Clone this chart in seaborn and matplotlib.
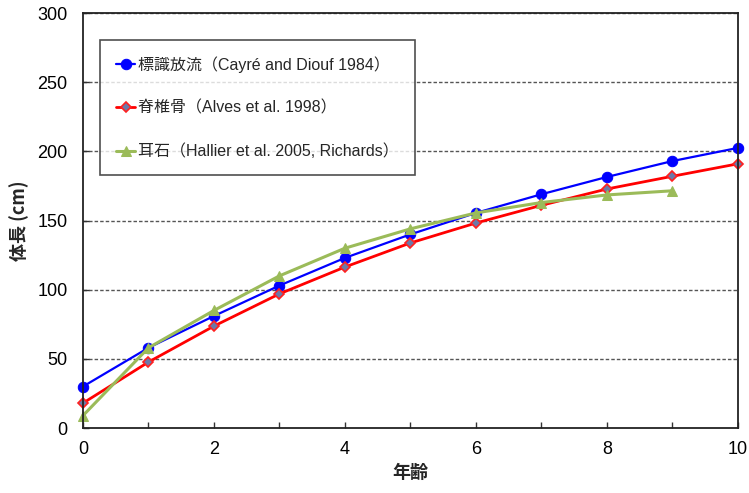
import numpy as np
import pandas as pd
import matplotlib
matplotlib.use("Agg")
import matplotlib.pyplot as plt
import seaborn as sns

# ages and lengths
age = [0, 1, 2, 3, 4, 5, 6, 7, 8, 9, 10]
scale_len = [30, 58, 81, 103, 123, 140, 155.5, 169, 181.5, 193, 202.5]
vertebra_len = [18, 47.7, 73.7, 97, 116.4, 133.8, 148.2, 161, 172.8, 182, 191]
age_oto = [0, 1, 2, 3, 4, 5, 6, 7, 8, 9]
otolith_len = [9, 58, 85, 110, 130, 144, 155.5, 163, 168.5, 171.5]

labels = ["標識放流（Cayré and Diouf 1984）",
          "脊椎骨（Alves et al. 1998）",
          "耳石（Hallier et al. 2005, Richards）"]

sns.set_theme(style="white")
plt.rcParams["font.family"] = ["Liberation Sans", "Noto Sans CJK JP", "DejaVu Sans"]

fig = plt.figure(figsize=(7.49, 4.93), dpi=100)
ax = fig.add_axes([0.1108, 0.1318, 0.8745, 0.8418])

for y in [50, 100, 150, 200, 250, 300]:
    ax.axhline(y, color="#555555", lw=1.0, ls=(0, (2.5, 1.5)), zorder=0)

df1 = pd.DataFrame({"age": age, "len": scale_len})
df2 = pd.DataFrame({"age": age, "len": vertebra_len})
df3 = pd.DataFrame({"age": age_oto, "len": otolith_len})

sns.lineplot(data=df1, x="age", y="len", ax=ax, color="#0000ff", lw=1.6,
             marker="o", markersize=7.5, markeredgecolor="#0000ff",
             markerfacecolor="#0000ff", label=labels[0], clip_on=False)
sns.lineplot(data=df2, x="age", y="len", ax=ax, color="#ff0000", lw=2.0,
             marker="D", markersize=5, markeredgecolor="#ff2020",
             markeredgewidth=1.2, markerfacecolor="#6c78a8", label=labels[1],
             clip_on=False)
sns.lineplot(data=df3, x="age", y="len", ax=ax, color="#9bbb59", lw=2.2,
             marker="^", markersize=7.5, markeredgecolor="#9bbb59",
             markerfacecolor="#9bbb59", label=labels[2], clip_on=False)

ax.set_xlim(0, 10)
ax.set_ylim(0, 300)
ax.set_xticks(range(0, 11, 2))
ax.set_xticks(range(0, 11), minor=True)
ax.set_yticks(range(0, 301, 50))
ax.tick_params(axis="both", which="both", direction="in", length=4,
               width=1, color="#333333", labelsize=13, labelcolor="black",
               bottom=True, left=True)
ax.tick_params(axis="y", pad=11)
ax.tick_params(axis="x", pad=9)
for s in ax.spines.values():
    s.set_color("#222222")
    s.set_linewidth(1.3)

ax.set_xlabel("年齢", fontsize=13, fontweight="bold", labelpad=4,
              family=["Noto Sans CJK JP", "DejaVu Sans"])
ax.set_ylabel("体長 (cm)", fontsize=13, fontweight="bold", labelpad=6,
              family=["Noto Sans CJK JP", "DejaVu Sans"])

leg = ax.legend(loc="upper left", bbox_to_anchor=(0.026, 0.935), fontsize=11.5,
                frameon=True, fancybox=False, edgecolor="#222222",
                handlelength=1.2, handletextpad=0.2, labelspacing=1.75,
                borderpad=1.0, borderaxespad=0)
leg.get_frame().set_linewidth(1.2)
for t in leg.get_texts():
    t.set_family(["Liberation Sans", "Noto Sans CJK JP", "DejaVu Sans"])

fig.savefig("out.png", dpi=100)
